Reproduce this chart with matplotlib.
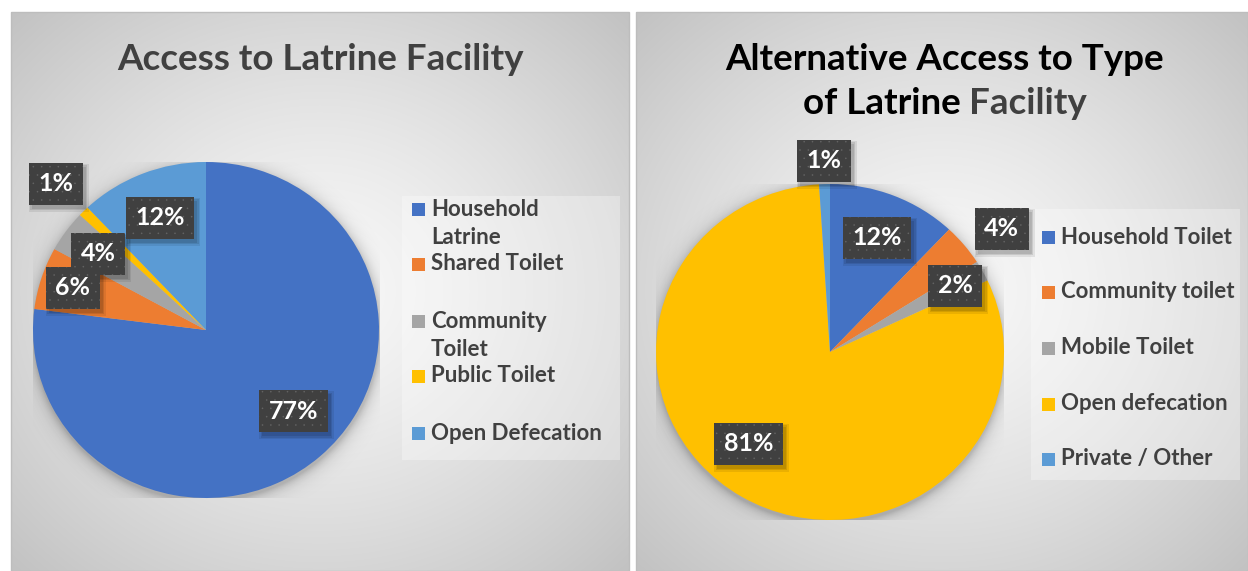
import numpy as np
import matplotlib
matplotlib.use("Agg")
import matplotlib.pyplot as plt
from matplotlib.patches import Rectangle
from matplotlib.transforms import IdentityTransform

plt.rcParams['font.family'] = ['Lato', 'DejaVu Sans']
plt.rcParams['font.weight'] = 'bold'
plt.rcParams['hatch.linewidth'] = 0.0

# chart data
left_title = "Access to Latrine Facility"
left_labels = ["Household\nLatrine", "Shared Toilet", "Community\nToilet",
               "Public Toilet", "Open Defecation"]
left_values = [77, 6, 4, 1, 12]

right_title_1 = "Alternative Access to Type"
right_title_2 = ["of Latrine ", "Facility"]
right_labels = ["Household Toilet", "Community toilet", "Mobile Toilet",
                "Open defecation", "Private / Other"]
right_values = [12, 4, 2, 81, 1]

colors = ['#4472C4', '#ED7D31', '#A5A5A5', '#FFC000', '#5B9BD5']

W, H = 1248, 571
fig = plt.figure(figsize=(W / 100, H / 100), dpi=100)
fig.patch.set_facecolor('white')

# full-figure axes in pixel units for backgrounds, titles, legends
bg = fig.add_axes([0, 0, 1, 1])
bg.set_xlim(0, W)
bg.set_ylim(H, 0)
bg.axis('off')


def panel(x0, x1, y0, y1):
    nx, ny = int(x1 - x0), int(y1 - y0)
    u = np.linspace(-1, 1, nx)[None, :]
    v = np.linspace(-1, 1, ny)[:, None]
    r = np.clip(np.sqrt(u ** 2 + v ** 2) / np.sqrt(2), 0, 1)
    c0, c1 = 0.975, 0.76
    g = c0 + (c1 - c0) * r ** 1.3
    img = np.dstack([g, g, g])
    bg.imshow(img, extent=[x0, x1, y1, y0], aspect='auto', zorder=0,
              interpolation='bilinear')
    bg.add_patch(Rectangle((x0, y0), x1 - x0, y1 - y0, fill=False,
                           edgecolor='#bdbdbd', lw=1, zorder=1))


panel(11, 629, 12, 571)
panel(636, 1248, 12, 571)
bg.set_xlim(0, W)
bg.set_ylim(H, 0)


def pie_axes(cx, cy, rx, ry):
    ax = fig.add_axes([(cx - rx) / W, (H - cy - ry) / H, 2 * rx / W, 2 * ry / H])
    ax.axis('off')
    return ax


label_texts = []


def draw_pie(ax, values, rads, nudges):
    # soft shadow around the pie
    n = 400
    g = np.linspace(-1.2, 1.2, n)
    xx, yy = np.meshgrid(g, g)
    d = np.sqrt(xx ** 2 + (yy + 0.02) ** 2)
    a = np.where(d < 1, 0.22, 0.22 * np.exp(-(d - 1) / 0.035))
    sh = np.zeros((n, n, 4))
    sh[..., 3] = a
    ax.imshow(sh, extent=[-1.2, 1.2, -1.2, 1.2], origin='lower',
              aspect='auto', zorder=0)
    wedges, _ = ax.pie(values, colors=colors, startangle=90, counterclock=False,
                       wedgeprops=dict(linewidth=0), radius=1)
    for w in wedges:
        w.set_zorder(2)
    ax.set_aspect('auto')
    ax.set_xlim(-1, 1)
    ax.set_ylim(-1, 1)
    for w, v, rf, nd in zip(wedges, values, rads, nudges):
        ang = np.deg2rad((w.theta1 + w.theta2) / 2 + nd)
        x, y = rf * np.cos(ang), rf * np.sin(ang)
        t = ax.text(x, y, f"{v}%", ha='center', va='center', fontsize=18,
                    color='white', zorder=6,
                    bbox=dict(boxstyle='square,pad=0.38', linewidth=0,
                              facecolor='#404040', edgecolor='#636363',
                              hatch='..'))
        label_texts.append((ax, t))
    return wedges


ax1 = pie_axes(206, 330, 173, 168)
draw_pie(ax1, left_values, [0.70, 0.81, 0.77, 1.23, 0.72], [5, 0, 0, 0, 0])

ax2 = pie_axes(830, 352, 174, 168)
draw_pie(ax2, right_values, [0.73, 1.23, 0.82, 0.72, 1.14], [0, -3, 0, -10, 0])

# titles
tsize = 26.5
bg.text(320, 60, left_title, ha='center', va='center', fontsize=tsize,
        color='#404040', zorder=3)
bg.text(945, 59, right_title_1, ha='center', va='center', fontsize=tsize,
        color='black', zorder=3)
renderer = fig.canvas.get_renderer()
ta = bg.text(0, 104, right_title_2[0], ha='left', va='center', fontsize=tsize,
             color='black', zorder=3)
tb = bg.text(0, 104, right_title_2[1], ha='left', va='center', fontsize=tsize,
             color='#404040', zorder=3)
wa = ta.get_window_extent(renderer).width
wb = tb.get_window_extent(renderer).width
start = 945 - (wa + wb) / 2
ta.set_x(start)
tb.set_x(start + wa)


# legends
def legend(x, ys, labels, box):
    bx0, by0, bx1, by1 = box
    bg.add_patch(Rectangle((bx0, by0), bx1 - bx0, by1 - by0, facecolor='white',
                           alpha=0.3, linewidth=0, zorder=2))
    for y, lab, c in zip(ys, labels, colors):
        bg.add_patch(Rectangle((x, y - 6.5), 13, 13, facecolor=c, linewidth=0,
                               zorder=3))
        for k, line in enumerate(lab.split('\n')):
            bg.text(x + 19, y + 29 * k, line, ha='left', va='center',
                    fontsize=16, color='#404040', zorder=3)


legend(412, [209, 264, 321, 376, 433], left_labels, (402, 196, 620, 460))
legend(1042, [237, 292, 348, 404, 459], right_labels, (1031, 209, 1240, 480))

# drop shadows behind the data label boxes
fig.canvas.draw()
for ax, t in label_texts:
    bb = t.get_bbox_patch().get_window_extent(renderer)
    for k, al in enumerate([0.10, 0.10, 0.08]):
        grow = k * 1.5
        ax.add_patch(Rectangle((bb.x0 + 3 - grow, bb.y0 - 4 - grow),
                               bb.width + 2 * grow, bb.height + 2 * grow,
                               transform=IdentityTransform(), facecolor='black',
                               alpha=al, linewidth=0, zorder=5, clip_on=False))

fig.savefig('out.png', dpi=100, facecolor='white')
